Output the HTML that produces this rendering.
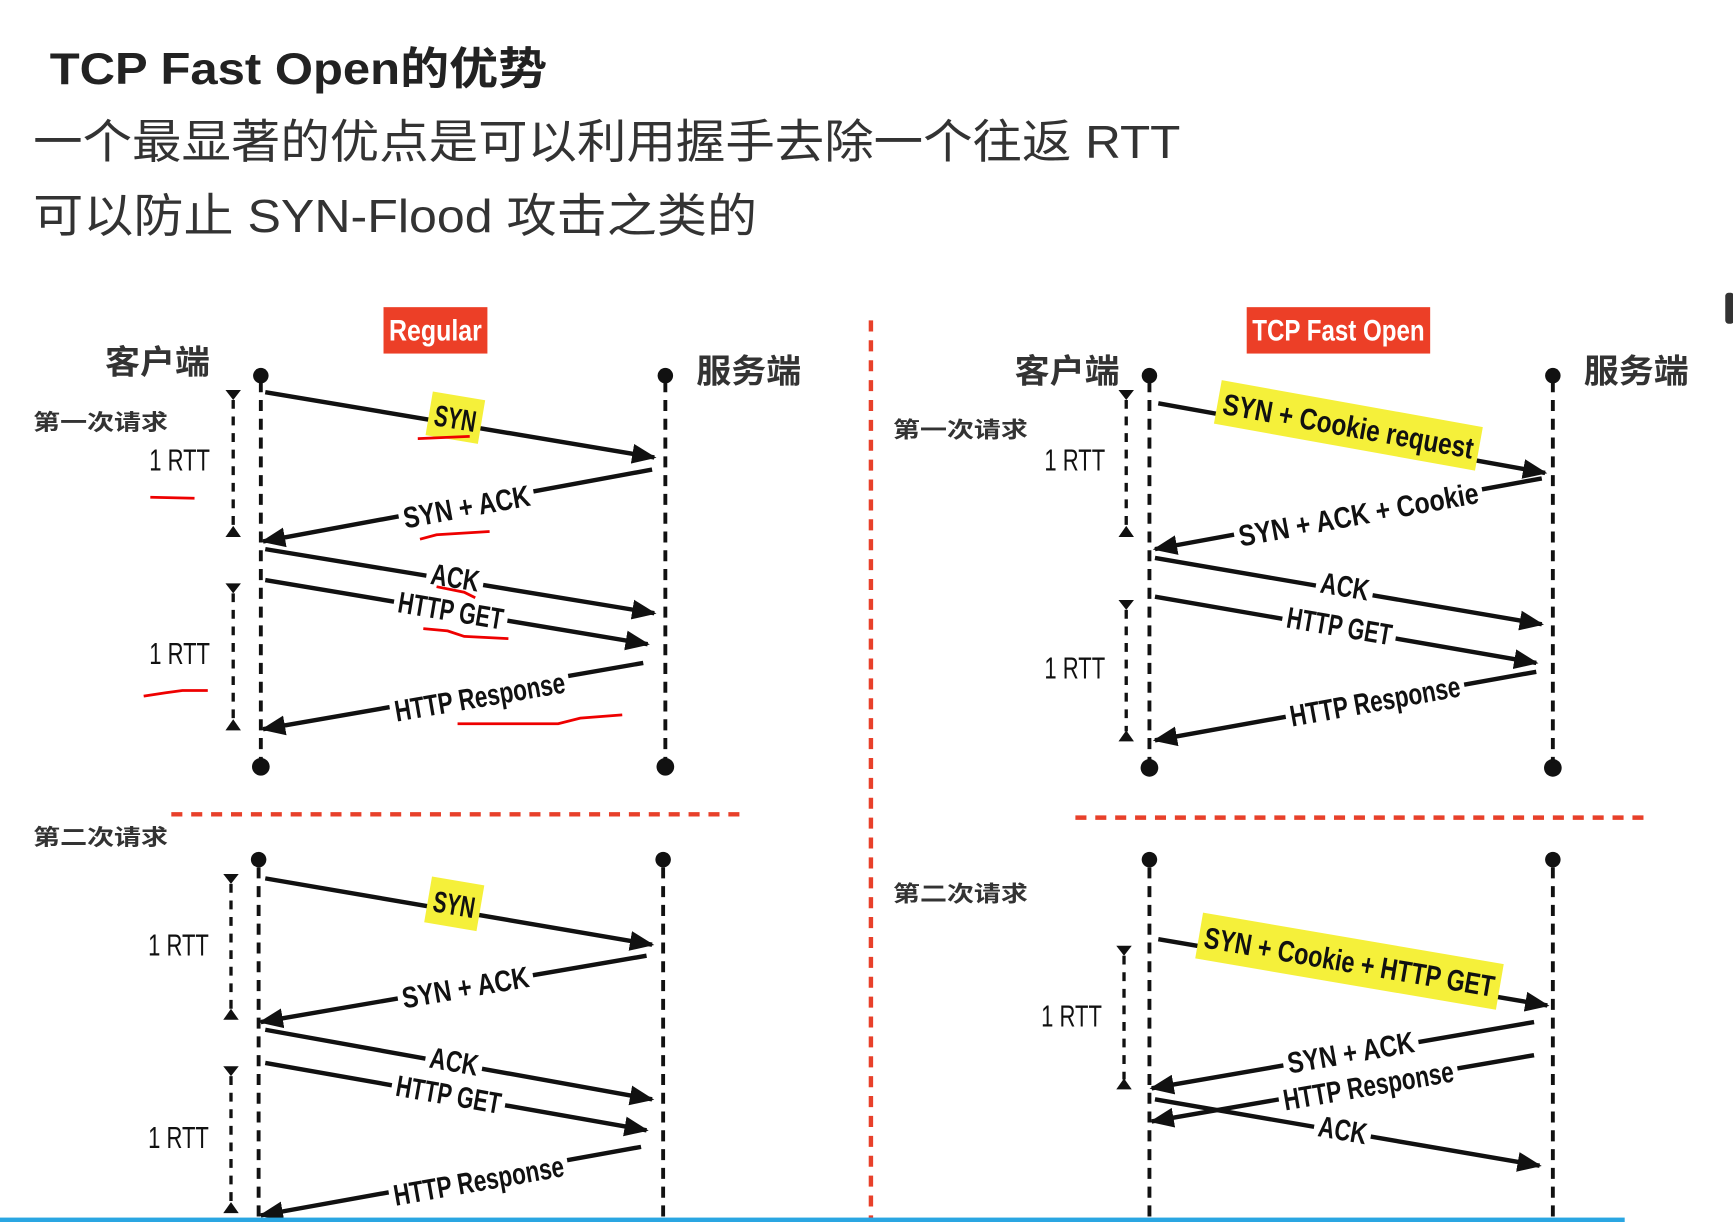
<!DOCTYPE html>
<html><head><meta charset="utf-8"><style>
html,body{margin:0;padding:0;background:#fff;width:1733px;height:1222px;overflow:hidden}
svg{display:block}
.cj{font-family:"Liberation Sans","Noto Sans CJK SC",sans-serif}
.lb{font-family:"Liberation Sans",sans-serif;font-weight:bold;font-size:27px;fill:#111}
.hl{font-family:"Liberation Sans",sans-serif;font-weight:bold;font-size:27px;fill:#111}
.ln{stroke:#111;stroke-width:4;fill:none}
.ll{stroke:#111;stroke-width:3.5;stroke-dasharray:10 7}
.br{stroke:#111;stroke-width:3;stroke-dasharray:8 7}
.rd{stroke:#e8402a;stroke-width:4;stroke-dasharray:10 8}
.rtt{font-family:"Liberation Sans",sans-serif;font-size:28px;fill:#111}
.cn{font-family:"Liberation Sans","Noto Sans CJK SC",sans-serif;font-weight:bold;fill:#333}
.ul{stroke:#e00;stroke-width:2.5;fill:none}
</style></head><body>
<svg width="1733" height="1222" viewBox="0 0 1568 1106" preserveAspectRatio="none" xmlns="http://www.w3.org/2000/svg">
<defs>
<marker id="m" viewBox="-20 -10 22 20" refX="0" refY="0" markerWidth="22" markerHeight="20" orient="auto" markerUnits="userSpaceOnUse">
<path d="M-20,-9 L2,0 L-20,9 Z" fill="#111"/>
</marker>
</defs>

<text x="45" y="76" class="cj" font-size="40" font-weight="bold" fill="#222" textLength="450" lengthAdjust="spacingAndGlyphs">TCP Fast Open的优势</text>
<text x="30" y="143" class="cj" font-size="42" fill="#333" textLength="1038" lengthAdjust="spacingAndGlyphs">一个最显著的优点是可以利用握手去除一个往返 RTT</text>
<text x="30" y="210" class="cj" font-size="42" fill="#333" textLength="655" lengthAdjust="spacingAndGlyphs">可以防止 SYN-Flood 攻击之类的</text>

<rect x="1561" y="265" width="8" height="28" rx="3" fill="#333"/>

<line x1="788" y1="290" x2="788" y2="1104" class="rd" stroke-width="3"/>
<line x1="155" y1="737" x2="675" y2="737" class="rd"/>
<line x1="973" y1="740" x2="1495" y2="740" class="rd"/>

<!-- LEFT -->
<rect x="347" y="278" width="94" height="42" fill="#ec3f27"/>
<text x="394" y="308" text-anchor="middle" class="hl" style="fill:#fff" font-size="28" textLength="84" lengthAdjust="spacingAndGlyphs">Regular</text>
<text x="95" y="338" class="cn" font-size="30" textLength="95" lengthAdjust="spacingAndGlyphs">客户端</text>
<text x="630" y="346" class="cn" font-size="30" textLength="95" lengthAdjust="spacingAndGlyphs">服务端</text>
<text x="30" y="389" class="cn" font-size="20" textLength="122" lengthAdjust="spacingAndGlyphs">第一次请求</text>
<text x="30" y="765" class="cn" font-size="20" textLength="122" lengthAdjust="spacingAndGlyphs">第二次请求</text>

<circle cx="236" cy="340" r="7" fill="#111"/><circle cx="236" cy="694" r="8" fill="#111"/>
<line x1="236" y1="345" x2="236" y2="688" class="ll"/>
<circle cx="602" cy="340" r="7" fill="#111"/><circle cx="602" cy="694" r="8" fill="#111"/>
<line x1="602" y1="345" x2="602" y2="688" class="ll"/>
<line x1="211" y1="362" x2="211" y2="478" class="br"/><path d="M204,353 L218,353 L211,362Z M204,486 L218,486 L211,476Z" fill="#111"/>
<line x1="211" y1="537" x2="211" y2="652" class="br"/><path d="M204,528 L218,528 L211,537Z M204,661 L218,661 L211,651Z" fill="#111"/>
<text x="135" y="426" class="rtt" textLength="55" lengthAdjust="spacingAndGlyphs">1 RTT</text>
<text x="135" y="601" class="rtt" textLength="55" lengthAdjust="spacingAndGlyphs">1 RTT</text>

<line x1="240" y1="355" x2="592" y2="414" class="ln" marker-end="url(#m)"/>
<line x1="590" y1="425" x2="238" y2="490" class="ln" marker-end="url(#m)"/>
<line x1="240" y1="497" x2="592" y2="555" class="ln" marker-end="url(#m)"/>
<line x1="240" y1="525" x2="586" y2="583" class="ln" marker-end="url(#m)"/>
<line x1="582" y1="600" x2="238" y2="660" class="ln" marker-end="url(#m)"/>

<g transform="translate(412,378) rotate(9.5)"><rect x="-24" y="-20" width="48" height="40" fill="#f5f03a"/><text class="hl" text-anchor="middle" y="10" textLength="38" lengthAdjust="spacingAndGlyphs">SYN</text></g>
<g transform="translate(422,458) rotate(-10.4)"><rect x="-62" y="-13" width="124" height="26" fill="#fff"/><text class="lb" text-anchor="middle" y="10" textLength="116" lengthAdjust="spacingAndGlyphs">SYN + ACK</text></g>
<g transform="translate(412,522) rotate(9.4)"><rect x="-26" y="-12" width="52" height="24" fill="#fff"/><text class="lb" text-anchor="middle" y="10" textLength="44" lengthAdjust="spacingAndGlyphs">ACK</text></g>
<g transform="translate(408,552) rotate(9.5)"><rect x="-52" y="-12" width="104" height="24" fill="#fff"/><text class="lb" text-anchor="middle" y="10" textLength="96" lengthAdjust="spacingAndGlyphs">HTTP GET</text></g>
<g transform="translate(434,630) rotate(-9.8)"><rect x="-82" y="-13" width="164" height="26" fill="#fff"/><text class="lb" text-anchor="middle" y="10" textLength="156" lengthAdjust="spacingAndGlyphs">HTTP Response</text></g>

<path class="ul" d="M378,397 L425,395"/>
<path class="ul" d="M136,450 L176,451"/>
<path class="ul" d="M380,488 L395,484 L443,481"/>
<path class="ul" d="M395,531 L420,536 L430,541"/>
<path class="ul" d="M383,569 L405,571 L420,576 L460,578"/>
<path class="ul" d="M130,630 L150,627 L165,625 L188,625"/>
<path class="ul" d="M414,655 L505,655 L525,650 L563,647"/>

<circle cx="234" cy="778" r="7" fill="#111"/><line x1="234" y1="785" x2="234" y2="1104" class="ll"/>
<circle cx="600" cy="778" r="7" fill="#111"/><line x1="600" y1="785" x2="600" y2="1104" class="ll"/>
<line x1="209" y1="800" x2="209" y2="915" class="br"/><path d="M202,791 L216,791 L209,800Z M202,923 L216,923 L209,913Z" fill="#111"/>
<line x1="209" y1="974" x2="209" y2="1090" class="br"/><path d="M202,965 L216,965 L209,974Z M202,1098 L216,1098 L209,1088Z" fill="#111"/>
<text x="134" y="865" class="rtt" textLength="55" lengthAdjust="spacingAndGlyphs">1 RTT</text>
<text x="134" y="1039" class="rtt" textLength="55" lengthAdjust="spacingAndGlyphs">1 RTT</text>

<line x1="240" y1="795" x2="590" y2="855" class="ln" marker-end="url(#m)"/>
<line x1="585" y1="865" x2="236" y2="925" class="ln" marker-end="url(#m)"/>
<line x1="240" y1="932" x2="590" y2="995" class="ln" marker-end="url(#m)"/>
<line x1="240" y1="962" x2="585" y2="1023" class="ln" marker-end="url(#m)"/>
<line x1="580" y1="1038" x2="236" y2="1100" class="ln" marker-end="url(#m)"/>
<g transform="translate(411,818) rotate(9.7)"><rect x="-24" y="-21" width="48" height="42" fill="#f5f03a"/><text class="hl" text-anchor="middle" y="10" textLength="38" lengthAdjust="spacingAndGlyphs">SYN</text></g>
<g transform="translate(421,893) rotate(-9.8)"><rect x="-62" y="-13" width="124" height="26" fill="#fff"/><text class="lb" text-anchor="middle" y="10" textLength="116" lengthAdjust="spacingAndGlyphs">SYN + ACK</text></g>
<g transform="translate(411,960) rotate(10)"><rect x="-26" y="-12" width="52" height="24" fill="#fff"/><text class="lb" text-anchor="middle" y="10" textLength="44" lengthAdjust="spacingAndGlyphs">ACK</text></g>
<g transform="translate(406,990) rotate(10)"><rect x="-52" y="-12" width="104" height="24" fill="#fff"/><text class="lb" text-anchor="middle" y="10" textLength="96" lengthAdjust="spacingAndGlyphs">HTTP GET</text></g>
<g transform="translate(433,1068) rotate(-10)"><rect x="-82" y="-13" width="164" height="26" fill="#fff"/><text class="lb" text-anchor="middle" y="10" textLength="156" lengthAdjust="spacingAndGlyphs">HTTP Response</text></g>

<!-- RIGHT -->
<rect x="1128" y="278" width="166" height="42" fill="#ec3f27"/>
<text x="1211" y="308" text-anchor="middle" class="hl" style="fill:#fff" font-size="28" textLength="156" lengthAdjust="spacingAndGlyphs">TCP Fast Open</text>
<text x="918" y="346" class="cn" font-size="30" textLength="95" lengthAdjust="spacingAndGlyphs">客户端</text>
<text x="1433" y="346" class="cn" font-size="30" textLength="95" lengthAdjust="spacingAndGlyphs">服务端</text>
<text x="808" y="396" class="cn" font-size="20" textLength="122" lengthAdjust="spacingAndGlyphs">第一次请求</text>
<text x="808" y="816" class="cn" font-size="20" textLength="122" lengthAdjust="spacingAndGlyphs">第二次请求</text>

<circle cx="1040" cy="340" r="7" fill="#111"/><circle cx="1040" cy="695" r="8" fill="#111"/>
<line x1="1040" y1="345" x2="1040" y2="690" class="ll"/>
<circle cx="1405" cy="340" r="7" fill="#111"/><circle cx="1405" cy="695" r="8" fill="#111"/>
<line x1="1405" y1="345" x2="1405" y2="690" class="ll"/>
<line x1="1019" y1="362" x2="1019" y2="478" class="br"/><path d="M1012,353 L1026,353 L1019,362Z M1012,486 L1026,486 L1019,476Z" fill="#111"/>
<line x1="1019" y1="552" x2="1019" y2="662" class="br"/><path d="M1012,543 L1026,543 L1019,552Z M1012,671 L1026,671 L1019,661Z" fill="#111"/>
<text x="945" y="426" class="rtt" textLength="55" lengthAdjust="spacingAndGlyphs">1 RTT</text>
<text x="945" y="614" class="rtt" textLength="55" lengthAdjust="spacingAndGlyphs">1 RTT</text>

<line x1="1048" y1="365" x2="1398" y2="428" class="ln" marker-end="url(#m)"/>
<line x1="1395" y1="433" x2="1045" y2="497" class="ln" marker-end="url(#m)"/>
<line x1="1045" y1="505" x2="1395" y2="565" class="ln" marker-end="url(#m)"/>
<line x1="1045" y1="540" x2="1390" y2="600" class="ln" marker-end="url(#m)"/>
<line x1="1390" y1="608" x2="1045" y2="670" class="ln" marker-end="url(#m)"/>
<g transform="translate(1220,385) rotate(10.2)"><rect x="-120" y="-20" width="240" height="40" fill="#f5f03a"/><text class="hl" text-anchor="middle" y="10" textLength="230" lengthAdjust="spacingAndGlyphs">SYN + Cookie request</text></g>
<g transform="translate(1229,465) rotate(-10.4)"><rect x="-114" y="-13" width="228" height="26" fill="#fff"/><text class="lb" text-anchor="middle" y="10" textLength="220" lengthAdjust="spacingAndGlyphs">SYN + ACK + Cookie</text></g>
<g transform="translate(1217,530) rotate(9.7)"><rect x="-26" y="-12" width="52" height="24" fill="#fff"/><text class="lb" text-anchor="middle" y="10" textLength="44" lengthAdjust="spacingAndGlyphs">ACK</text></g>
<g transform="translate(1212,566) rotate(9.8)"><rect x="-52" y="-12" width="104" height="24" fill="#fff"/><text class="lb" text-anchor="middle" y="10" textLength="96" lengthAdjust="spacingAndGlyphs">HTTP GET</text></g>
<g transform="translate(1244,634) rotate(-10.2)"><rect x="-82" y="-13" width="164" height="26" fill="#fff"/><text class="lb" text-anchor="middle" y="10" textLength="156" lengthAdjust="spacingAndGlyphs">HTTP Response</text></g>

<circle cx="1040" cy="778" r="7" fill="#111"/><line x1="1040" y1="785" x2="1040" y2="1104" class="ll"/>
<circle cx="1405" cy="778" r="7" fill="#111"/><line x1="1405" y1="785" x2="1405" y2="1104" class="ll"/>
<line x1="1017" y1="865" x2="1017" y2="977" class="br"/><path d="M1010,856 L1024,856 L1017,865Z M1010,986 L1024,986 L1017,976Z" fill="#111"/>
<text x="942" y="929" class="rtt" textLength="55" lengthAdjust="spacingAndGlyphs">1 RTT</text>

<line x1="1048" y1="850" x2="1400" y2="910" class="ln" marker-end="url(#m)"/>
<line x1="1388" y1="925" x2="1042" y2="985" class="ln" marker-end="url(#m)"/>
<line x1="1388" y1="955" x2="1042" y2="1015" class="ln" marker-end="url(#m)"/>
<line x1="1045" y1="995" x2="1393" y2="1055" class="ln" marker-end="url(#m)"/>
<g transform="translate(1221,870) rotate(9.7)"><rect x="-138" y="-21" width="276" height="42" fill="#f5f03a"/><text class="hl" text-anchor="middle" y="10" textLength="266" lengthAdjust="spacingAndGlyphs">SYN + Cookie + HTTP GET</text></g>
<g transform="translate(1238,982) rotate(-9.8)"><rect x="-82" y="-13" width="164" height="26" fill="#fff"/><text class="lb" text-anchor="middle" y="10" textLength="156" lengthAdjust="spacingAndGlyphs">HTTP Response</text></g>
<g transform="translate(1222,952) rotate(-9.8)"><rect x="-62" y="-13" width="124" height="22" fill="#fff"/><text class="lb" text-anchor="middle" y="10" textLength="116" lengthAdjust="spacingAndGlyphs">SYN + ACK</text></g>
<g transform="translate(1215,1022) rotate(9.8)"><rect x="-26" y="-12" width="52" height="24" fill="#fff"/><text class="lb" text-anchor="middle" y="10" textLength="44" lengthAdjust="spacingAndGlyphs">ACK</text></g>

<rect x="0" y="1102" width="1470" height="4" fill="#2aa6e2"/>
</svg>
</body></html>
